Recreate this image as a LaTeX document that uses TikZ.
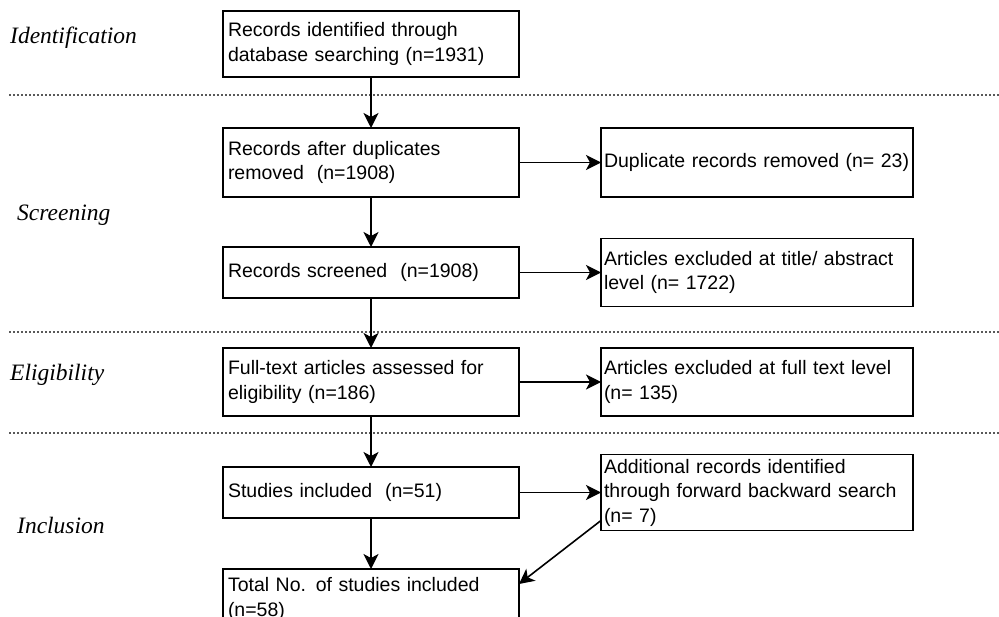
\documentclass[tikz,border=0pt]{standalone}
\usepackage{fontspec}
\setmainfont{Liberation Serif}
\setsansfont{Liberation Sans}
\usetikzlibrary{arrows.meta}

\begin{document}
\begin{tikzpicture}[x=1pt,y=-1pt,
  boite/.style={draw,line width=1.6pt,font=\sffamily\fontsize{19.5}{24.5}\selectfont,align=left,inner ysep=0pt,outer sep=0pt},
  gauche/.style={boite,inner xsep=5pt,text width=286pt},
  droite/.style={boite,inner xsep=3pt,text width=306pt},
  etape/.style={font=\itshape\fontsize{23.5}{28}\selectfont,anchor=base west,inner sep=0pt},
  fleche/.style={line width=1.6pt,-{Stealth[length=15pt,width=15pt,inset=4pt]}},
  separation/.style={line width=1.5pt,dash pattern=on 1.5pt off 2.5pt,color=black!65}]
\useasboundingbox (0,0) rectangle (999,617);
\node[etape] (identification) at (10,44) {Identification};
\node[etape] (screening) at (17,221) {Screening};
\node[etape] (eligibility) at (10,381) {Eligibility};
\node[etape] (inclusion) at (17,533) {Inclusion};
\draw[separation] (9,95) -- (999,95);
\draw[separation] (9,332) -- (999,332);
\draw[separation] (9,433) -- (999,433);
\node[gauche,minimum height=66pt] (identifies) at (371,44) {Records identified through\\database searching (n=1931)};
\node[gauche,minimum height=69pt] (doublons) at (371,162.5) {Records after duplicates\\removed\ \ (n=1908)};
\node[droite,minimum height=69pt] (supprimes) at (757,162.5) {Duplicate records removed (n= 23)};
\node[gauche,minimum height=51pt] (tries) at (371,272.5) {Records screened\ \ (n=1908)};
\node[droite,minimum height=68pt] (exclusresume) at (757,272.5) {Articles excluded at title/ abstract\\level (n= 1722)};
\node[gauche,minimum height=68pt] (eligibles) at (371,382) {Full-text articles assessed for\\eligibility (n=186)};
\node[droite,minimum height=68pt] (exclustexte) at (757,382) {Articles excluded at full text level\\(n= 135)};
\node[gauche,minimum height=51pt] (inclus) at (371,492.5) {Studies included\ \ (n=51)};
\node[droite,minimum height=76pt] (ajouts) at (757,492.5) {Additional records identified\\through forward backward search\\(n= 7)};
\node[gauche,minimum height=60pt] (total) at (371,599) {Total No. of studies included\\(n=58)};
\draw[fleche] (identifies) -- (doublons);
\draw[fleche] (doublons) -- (supprimes);
\draw[fleche] (doublons) -- (tries);
\draw[fleche] (tries) -- (exclusresume);
\draw[fleche] (tries) -- (eligibles);
\draw[fleche] (eligibles) -- (exclustexte);
\draw[fleche] (eligibles) -- (inclus);
\draw[fleche] (inclus) -- (ajouts);
\draw[fleche] (inclus) -- (total);
\draw[fleche] ([yshift=10pt]ajouts.south west) -- ([yshift=-15pt]total.north east);
\end{tikzpicture}
\end{document}
